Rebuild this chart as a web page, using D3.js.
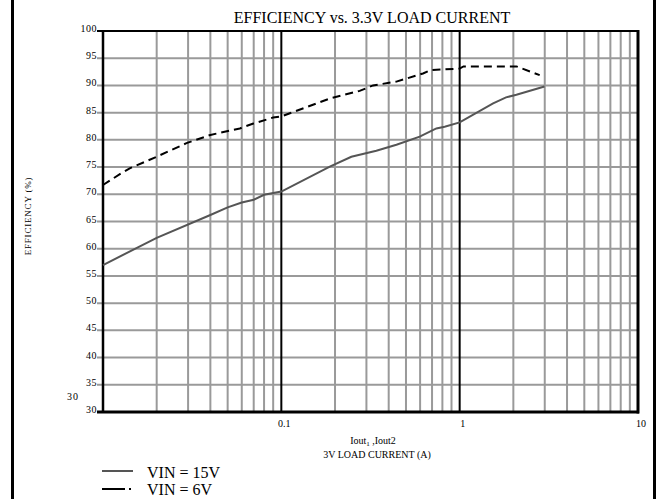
<!DOCTYPE html>
<html lang="en">
<head>
<meta charset="utf-8">
<title>Efficiency vs 3.3V load current</title>
<script src="https://d3js.org/d3.v7.min.js"></script>
<style>
  body { margin: 0; background: #fff; }
  svg text { font-family: "Liberation Serif", "DejaVu Serif", serif; fill: #000; }
</style>
</head>
<body>
<div id="chart"></div>
<script>
// load current (A) and efficiency (%)
var vin15Current = [0.01, 0.02, 0.04, 0.05, 0.06, 0.07, 0.08, 0.1, 0.187, 0.247, 0.341, 0.442, 0.597, 0.74, 0.824, 1.0, 1.54, 1.82, 2.08, 2.99];
var vin15Eff     = [57.0, 62.0, 66.2, 67.6, 68.5, 69.0, 69.9, 70.5, 75.1, 76.9, 78.0, 79.1, 80.6, 82.1, 82.4, 83.2, 86.7, 87.8, 88.3, 89.8];

var vin6Current = [0.01, 0.0127, 0.0142, 0.02, 0.0237, 0.0294, 0.04, 0.0585, 0.0697, 0.09, 0.1, 0.187, 0.275, 0.327, 0.442, 0.623, 0.683, 1.0, 1.05, 2.08, 2.81];
var vin6Eff     = [71.7, 73.9, 74.8, 76.9, 78.0, 79.4, 80.9, 82.1, 83.0, 84.1, 84.3, 87.6, 89.0, 90.0, 90.7, 92.2, 92.8, 93.1, 93.5, 93.5, 91.9];

var yTicks = [30, 35, 40, 45, 50, 55, 60, 65, 70, 75, 80, 85, 90, 95, 100];
var xDecades = [0.01, 0.1, 1, 10];
var xLabels = ["0.1", "1", "10"];
var legendNames = ["VIN = 15V", "VIN = 6V"];

var W = 660, H = 499;
var margin = {top: 31, right: 22, bottom: 87, left: 103},
    width = 638 - margin.left,
    height = 412 - margin.top;

var svg = d3.select("#chart").append("svg")
    .attr("width", W)
    .attr("height", H);

// outer frame (sides only)
svg.append("rect").attr("x", 11).attr("y", 0).attr("width", 3).attr("height", H).attr("fill", "#000");
svg.append("rect").attr("x", 653).attr("y", 0).attr("width", 3).attr("height", H).attr("fill", "#000");

var g = svg.append("g")
    .attr("transform", "translate(" + margin.left + "," + margin.top + ")");

var x = d3.scaleLog().domain([0.01, 10]).range([0, width]);
var y = d3.scaleLinear().domain([30, 100]).range([height, 0]);

// minor vertical grid
var minor = [];
for (var d = 0; d < 3; d++) {
    for (var k = 2; k <= 9; k++) minor.push(xDecades[d] * k);
}
g.selectAll(".vminor").data(minor).enter().append("line")
    .attr("x1", function(d) { return x(d); })
    .attr("x2", function(d) { return x(d); })
    .attr("y1", 0).attr("y2", height)
    .attr("stroke", "#9a9a9a").attr("stroke-width", 2);

// horizontal grid, extending a bit past the left axis as ticks
g.selectAll(".hgrid").data(yTicks.slice(1, -1)).enter().append("line")
    .attr("x1", -6).attr("x2", width)
    .attr("y1", function(d) { return y(d); })
    .attr("y2", function(d) { return y(d); })
    .attr("stroke", "#9a9a9a").attr("stroke-width", 2);

// decade lines
g.selectAll(".vmajor").data([0.1, 1]).enter().append("line")
    .attr("x1", function(d) { return x(d); })
    .attr("x2", function(d) { return x(d); })
    .attr("y1", 0).attr("y2", height)
    .attr("stroke", "#000").attr("stroke-width", 2);

// plot frame
g.append("line").attr("x1", -6).attr("x2", width).attr("y1", 0).attr("y2", 0)
    .attr("stroke", "#000").attr("stroke-width", 2);
g.append("line").attr("x1", -6).attr("x2", width + 1).attr("y1", height).attr("y2", height)
    .attr("stroke", "#000").attr("stroke-width", 3);
g.append("line").attr("x1", 0).attr("x2", 0).attr("y1", -1).attr("y2", height + 1)
    .attr("stroke", "#000").attr("stroke-width", 2.5);
g.append("line").attr("x1", width).attr("x2", width).attr("y1", -1).attr("y2", height + 1.5)
    .attr("stroke", "#000").attr("stroke-width", 3);

// y tick labels
g.selectAll(".ylab").data(yTicks).enter().append("text")
    .attr("x", -6)
    .attr("y", function(d) { return y(d) + 1; })
    .attr("text-anchor", "end")
    .style("font-size", "10px")
    .style("letter-spacing", "0.5px")
    .text(function(d) { return d; });

// x tick labels
g.selectAll(".xlab").data(xLabels).enter().append("text")
    .attr("x", function(d) { return x(+d) + 3; })
    .attr("y", height + 15)
    .attr("text-anchor", "middle")
    .style("font-size", "10px")
    .text(function(d) { return d; });

// stray label under the y axis
svg.append("text").attr("x", 73).attr("y", 400).attr("text-anchor", "middle")
    .style("font-size", "10px").style("letter-spacing", "1px").text("30");

// lines
var line = d3.line()
    .x(function(d) { return x(d[0]); })
    .y(function(d) { return y(d[1]); });

g.append("path")
    .datum(d3.zip(vin15Current, vin15Eff))
    .attr("d", line)
    .attr("fill", "none")
    .attr("stroke", "#555")
    .attr("stroke-width", 2);

g.append("path")
    .datum(d3.zip(vin6Current, vin6Eff))
    .attr("d", line)
    .attr("fill", "none")
    .attr("stroke", "#000")
    .attr("stroke-width", 2)
    .attr("stroke-dasharray", "8,5");

// title
svg.append("text").attr("x", 372).attr("y", 23).attr("text-anchor", "middle")
    .style("font-size", "16px").text("EFFICIENCY vs. 3.3V LOAD CURRENT");

// y axis title
svg.append("text")
    .attr("transform", "translate(31,216) rotate(-90)")
    .attr("text-anchor", "middle")
    .style("font-size", "9px")
    .style("letter-spacing", "0.8px")
    .text("EFFICIENCY (%)");

// x axis title
var xt = svg.append("text").attr("x", 373).attr("y", 444).attr("text-anchor", "middle")
    .style("font-size", "10px");
xt.append("tspan").text("Iout");
xt.append("tspan").attr("dy", 2).style("font-size", "7px").text("1");
xt.append("tspan").attr("dy", -2).text("  ,Iout2");
svg.append("text").attr("x", 377).attr("y", 458).attr("text-anchor", "middle")
    .style("font-size", "10px").text("3V LOAD CURRENT (A)");

// legend
var legend = svg.append("g");
legend.append("line").attr("x1", 102).attr("x2", 133).attr("y1", 471).attr("y2", 471)
    .attr("stroke", "#555").attr("stroke-width", 2);
legend.append("line").attr("x1", 102).attr("x2", 125).attr("y1", 489).attr("y2", 489)
    .attr("stroke", "#000").attr("stroke-width", 2);
legend.append("line").attr("x1", 129).attr("x2", 131).attr("y1", 489).attr("y2", 489)
    .attr("stroke", "#000").attr("stroke-width", 2);
legend.selectAll(".lt").data(legendNames).enter().append("text")
    .attr("x", 147)
    .attr("y", function(d, i) { return 478 + i * 17; })
    .style("font-size", "16px")
    .text(function(d) { return d; });
</script>
</body>
</html>
